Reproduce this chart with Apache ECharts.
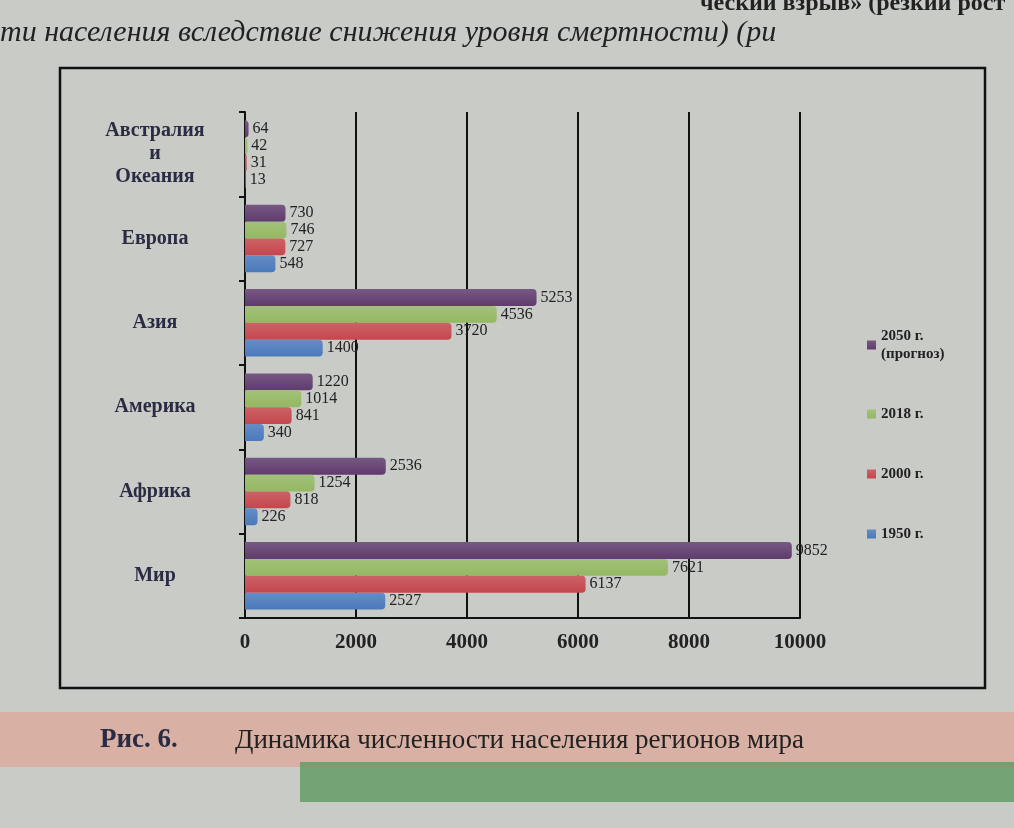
<!DOCTYPE html>
<html>
<head>
<meta charset="utf-8">
<script src="https://cdn.jsdelivr.net/npm/echarts@6/dist/echarts.min.js"></script>
<style>
html, body { margin: 0; padding: 0; background: #c9cbc7; }
#chart { width: 1014px; height: 828px; }
</style>
</head>
<body>
<div id="chart"></div>
<script>
var regions = ['Австралия\nи\nОкеания', 'Европа', 'Азия', 'Америка', 'Африка', 'Мир'];
var years = ['2050 г.\n(прогноз)', '2018 г.', '2000 г.', '1950 г.'];
var v2050 = [64, 730, 5253, 1220, 2536, 9852];
var v2018 = [42, 746, 4536, 1014, 1254, 7621];
var v2000 = [31, 727, 3720, 841, 818, 6137];
var v1950 = [13, 548, 1400, 340, 226, 2527];
var xTicks = [0, 2000, 4000, 6000, 8000, 10000];

var colors = ['#5f3b6e', '#93b862', '#c4474d', '#4a79bb'];
var serif = '"Liberation Serif", "DejaVu Serif", serif';

function bar(name, data, color){
	return {
		name: name,
		type: 'bar',
		data: data,
		barGap: '0%',
		barCategoryGap: '20%',
		itemStyle: {
			color: new echarts.graphic.LinearGradient(0, 0, 0, 1, [
				{offset: 0, color: echarts.color.lift(color, 0.15)},
				{offset: 1, color: color}
			]),
			borderRadius: [0, 4, 4, 0]
		},
		label: {
			show: true,
			position: 'right',
			distance: 4,
			color: '#222',
			fontFamily: serif,
			fontSize: 16
		}
	};
}

var chart = echarts.init(document.getElementById('chart'));
chart.setOption({
	backgroundColor: '#c9cbc7',
	animation: false,
	color: colors,
	grid: {left: 245, right: 214, top: 112, bottom: 210},
	legend: {
		orient: 'vertical',
		left: 862,
		top: 322,
		itemWidth: 9,
		itemHeight: 9,
		itemGap: 42,
		icon: 'rect',
		data: years,
		textStyle: {color: '#222', fontFamily: serif, fontWeight: 'bold', fontSize: 15, lineHeight: 18}
	},
	xAxis: {
		type: 'value',
		min: 0,
		max: 10000,
		interval: 2000,
		axisLine: {show: true, lineStyle: {color: '#111', width: 2}},
		axisTick: {show: false},
		splitLine: {show: true, lineStyle: {color: '#111', width: 2}},
		axisLabel: {
			color: '#222',
			fontFamily: serif,
			fontWeight: 'bold',
			fontSize: 21,
			margin: 14,
			customValues: xTicks,
			formatter: function(v){ return String(v); }
		}
	},
	yAxis: {
		type: 'category',
		inverse: true,
		data: regions,
		axisLine: {show: true, lineStyle: {color: '#111', width: 2}},
		axisTick: {show: true, length: 6, lineStyle: {color: '#111', width: 2}},
		axisLabel: {
			color: '#2a2c44',
			fontFamily: serif,
			fontWeight: 'bold',
			fontSize: 20,
			lineHeight: 23,
			margin: 90,
			align: 'center'
		}
	},
	series: [
		bar(years[0], v2050, colors[0]),
		bar(years[1], v2018, colors[1]),
		bar(years[2], v2000, colors[2]),
		bar(years[3], v1950, colors[3])
	],
	graphic: [
		{type: 'rect', z: -10, shape: {x: 60, y: 68, width: 925, height: 620},
			style: {fill: 'transparent', stroke: '#111', lineWidth: 2.5}},
		{type: 'rect', z: -20, shape: {x: 0, y: 712, width: 1014, height: 55},
			style: {fill: '#d8b1a4'}},
		{type: 'rect', z: -20, shape: {x: 300, y: 762, width: 714, height: 40},
			style: {fill: '#5f9a62', opacity: 0.8}},
		{type: 'text', left: 100, top: 727,
			style: {text: 'Рис. 6.', fill: '#2a2c44', font: 'bold 27px ' + serif}},
		{type: 'text', left: 235, top: 727,
			style: {text: 'Динамика численности населения регионов мира', fill: '#222', font: '27px ' + serif}},
		{type: 'text', left: 0, top: 18,
			style: {text: 'ти населения вследствие снижения уровня смертности) (ри', fill: '#222', font: 'italic 30px ' + serif}},
		{type: 'text', left: 700, top: -8,
			style: {text: 'ческий взрыв» (резкий рост', fill: '#222', font: 'bold 24px ' + serif}}
	]
});
</script>
</body>
</html>
